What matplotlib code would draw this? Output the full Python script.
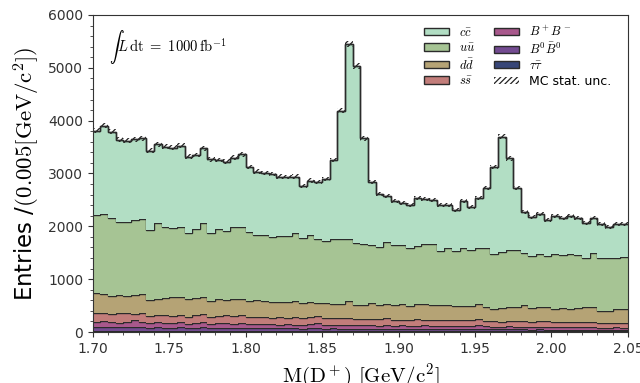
import numpy as np
import matplotlib
matplotlib.use('Agg')
import matplotlib.pyplot as plt
from matplotlib.patches import Patch

plt.rcParams['mathtext.fontset'] = 'cm'
plt.rcParams['hatch.linewidth'] = 0.9

# bin edges for M(D+) in GeV/c^2, 0.005 wide
x_lo = 1.70
x_hi = 2.05
n_bins = 70

# cumulative stack tops (entries per bin)
top_tautau = [25, 27, 24, 23, 25, 27, 24, 22, 24, 23, 21, 24, 20, 22, 24, 20, 21, 21, 19, 21,
              19, 20, 19, 18, 18, 19, 18, 17, 19, 21, 17, 18, 17, 17, 16, 16, 16, 16, 17, 15,
              16, 15, 15, 16, 15, 15, 15, 14, 15, 15, 16, 14, 14, 13, 14, 14, 13, 13, 13, 13,
              12, 13, 12, 12, 12, 12, 11, 11, 12, 11]
top_b0b0 = [95, 101, 90, 88, 95, 101, 95, 82, 88, 85, 80, 88, 76, 82, 90, 76, 80, 78, 74, 78,
            72, 74, 72, 70, 68, 70, 68, 65, 70, 82, 65, 68, 65, 63, 62, 62, 62, 60, 65, 58,
            62, 56, 58, 62, 56, 58, 56, 54, 58, 56, 60, 54, 52, 50, 54, 52, 50, 48, 50, 48,
            46, 48, 45, 46, 44, 45, 43, 42, 44, 42]
top_bpbm = [196, 215, 190, 177, 196, 227, 196, 164, 190, 177, 164, 190, 152, 177, 196, 152, 177, 164, 152, 164,
            145, 152, 150, 145, 140, 145, 140, 135, 145, 177, 135, 140, 135, 130, 126, 126, 126, 120, 135, 120,
            126, 115, 120, 126, 115, 120, 115, 110, 120, 115, 126, 110, 105, 100, 110, 105, 100, 95, 100, 95,
            92, 95, 90, 92, 88, 90, 85, 85, 88, 85]
top_ss = [366, 354, 341, 366, 366, 341, 366, 303, 322, 328, 303, 328, 290, 316, 335, 290, 309, 316, 303, 316,
          290, 278, 284, 271, 284, 265, 278, 259, 278, 300, 265, 259, 259, 265, 253, 253, 240, 240, 259, 227,
          227, 227, 240, 227, 227, 235, 227, 227, 235, 227, 240, 215, 200, 196, 215, 215, 205, 196, 205, 200,
          190, 196, 190, 196, 185, 190, 177, 177, 180, 177]
top_dd = [745, 720, 688, 701, 688, 707, 720, 606, 619, 638, 657, 657, 619, 644, 669, 593, 631, 606, 631, 631,
          593, 606, 581, 562, 574, 568, 581, 543, 568, 543, 543, 530, 530, 581, 511, 511, 556, 511, 530, 511,
          530, 492, 524, 530, 505, 511, 505, 492, 492, 492, 524, 480, 429, 448, 480, 467, 505, 455, 480, 467,
          442, 455, 442, 461, 467, 480, 404, 404, 429, 429]
top_uu = [2216, 2228, 2153, 2077, 2077, 2121, 2134, 1932, 2071, 1995, 1970, 1982, 1881, 1944, 2058, 1881, 1944, 1913, 1995, 1982,
          1888, 1831, 1837, 1799, 1818, 1818, 1881, 1774, 1837, 1755, 1723, 1755, 1768, 1768, 1692, 1667, 1648, 1616, 1710, 1648,
          1648, 1585, 1629, 1660, 1660, 1540, 1597, 1534, 1597, 1553, 1585, 1585, 1477, 1521, 1553, 1553, 1490, 1439, 1477, 1446,
          1471, 1458, 1477, 1458, 1408, 1490, 1395, 1402, 1402, 1427]
top_cc = [3813, 3908, 3794, 3636, 3624, 3649, 3668, 3434, 3554, 3510, 3491, 3523, 3321, 3352, 3479, 3270, 3258, 3226, 3302, 3365,
          3119, 3037, 3005, 2992, 2942, 2929, 2942, 2765, 2866, 2835, 2898, 3258, 4186, 5455, 5038, 3668, 2840, 2610, 2580, 2487,
          2449, 2405, 2532, 2520, 2490, 2405, 2405, 2311, 2480, 2374, 2532, 2721, 3119, 3699, 3289, 2721, 2279, 2184, 2235, 2121,
          2197, 2153, 2197, 2153, 2058, 2153, 2045, 1982, 2039, 2045]

# MC event weight, used for the stat. uncertainty band
mc_weight = 0.6

labels = [r'$c\bar{c}$', r'$u\bar{u}$', r'$d\bar{d}$', r'$s\bar{s}$',
          r'$B^+B^-$', r'$B^0\bar{B}^0$', r'$\tau\bar{\tau}$']
colors = ['#b2dec4', '#a6c494', '#b5a375', '#c27d7a', '#a8588c', '#734b91', '#374678']
tops = [top_cc, top_uu, top_dd, top_ss, top_bpbm, top_b0b0, top_tautau]

edges = np.linspace(x_lo, x_hi, n_bins + 1)
edge_col = '#2b2b2b'

fig = plt.figure(figsize=(6.4, 3.83), dpi=100)
ax = fig.add_axes([0.145, 0.133, 0.836, 0.828])

# draw from the bottom of the stack upwards
below = np.zeros(n_bins)
for top, col in zip(tops[::-1], colors[::-1]):
    top = np.array(top, dtype=float)
    ax.stairs(top, edges, baseline=below, fill=True, color=col, lw=0)
    ax.stairs(top, edges, baseline=None, color=edge_col, lw=1.0)
    below = top

total = np.array(top_cc, dtype=float)
unc = np.sqrt(mc_weight * total)
ax.stairs(total + unc, edges, baseline=total - unc, fill=True, facecolor='none',
          edgecolor='#222222', hatch='//////', lw=0)
ax.stairs(total, edges, baseline=None, color=edge_col, lw=1.0)

ax.set_xlim(x_lo, x_hi)
ax.set_ylim(0, 6000)
ax.set_xticks(np.arange(1.70, 2.051, 0.05))
ax.set_xticklabels(['%.2f' % t for t in np.arange(1.70, 2.051, 0.05)])
ax.set_xticks(np.arange(1.70, 2.051, 0.01), minor=True)
ax.set_yticks(np.arange(0, 6001, 1000))
ax.set_yticks(np.arange(0, 6001, 200), minor=True)
ax.tick_params(which='both', direction='out', colors='#333333', labelsize=10)
ax.tick_params(which='minor', length=2)
for sp in ax.spines.values():
    sp.set_color('#333333')

ax.set_xlabel(r'$\mathrm{M(D^+)\ [GeV/c^2]}$', fontsize=15, labelpad=4)
ax.set_ylabel(r'Entries /$(0.005[\mathrm{GeV/c^2}])$', fontsize=16.5, labelpad=4)

ax.text(0.03, 0.96, r'$\int L\,\mathrm{dt}\ =\ 1000\,\mathrm{fb}^{-1}$',
        transform=ax.transAxes, fontsize=10.5, va='top', ha='left')

handles = [Patch(facecolor=c, edgecolor=edge_col, lw=1) for c in colors]
handles.append(Patch(facecolor='none', edgecolor='#222222', hatch='//////', lw=0))
leg_labels = labels + ['MC stat. unc.']
ax.legend(handles, leg_labels, ncol=2, loc='upper right', frameon=False,
          fontsize=9, labelspacing=0.2, columnspacing=1.5, handleheight=0.5,
          bbox_to_anchor=(0.99, 1.005))

fig.savefig('out.png', dpi=100)
